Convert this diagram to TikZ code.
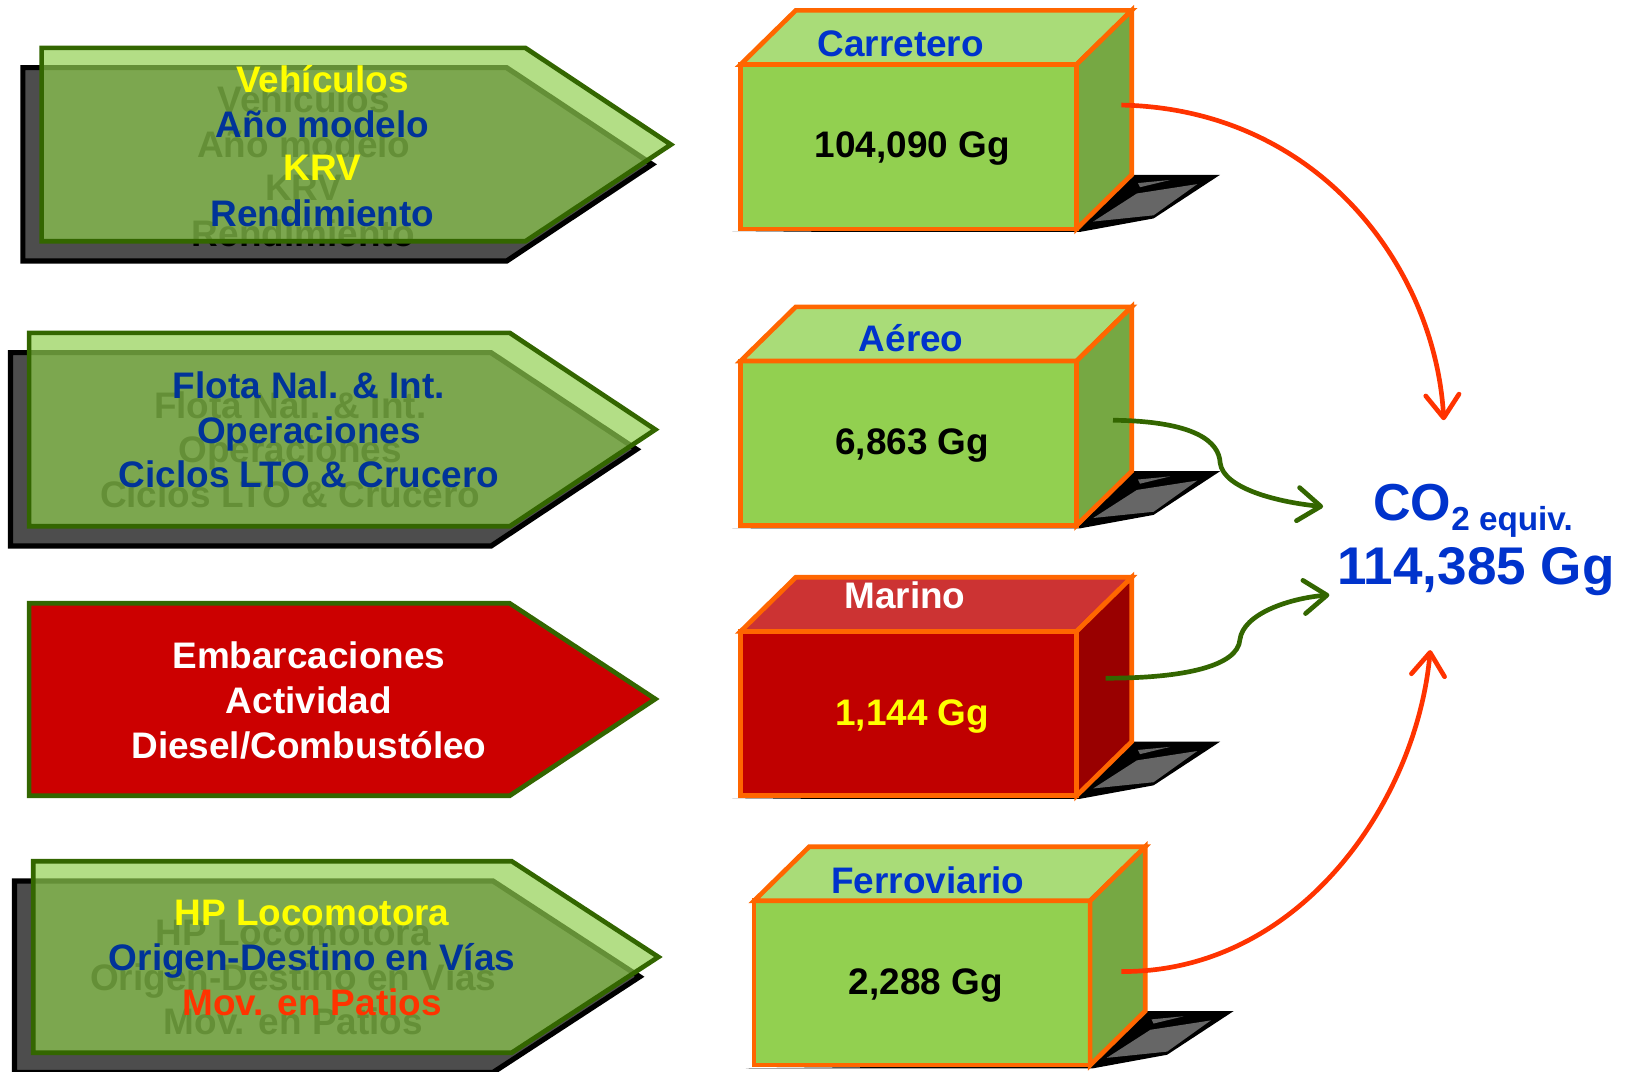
\documentclass[tikz,border=0pt]{standalone}
\usepackage{fontspec}
\setmainfont{Liberation Sans}
\usetikzlibrary{arrows.meta}
\definecolor{dgreen}{HTML}{336600}
\definecolor{lgreen}{HTML}{92D050}
\definecolor{tgreen}{HTML}{A9DC78}
\definecolor{sgreen}{HTML}{76A843}
\definecolor{borange}{HTML}{FF6600}
\definecolor{navy}{HTML}{003399}
\definecolor{blu}{HTML}{0033CC}
\definecolor{yel}{HTML}{FFFF00}
\definecolor{redor}{HTML}{FF3300}
\definecolor{arrowred}{HTML}{CC0000}
\definecolor{shadowgray}{HTML}{4D4D4D}
\definecolor{floorgray}{HTML}{666666}
\definecolor{mfront}{HTML}{C00000}
\definecolor{mtop}{HTML}{CC3333}
\definecolor{mside}{HTML}{990000}

\newcommand\mycube[5]{%
\begin{scope}[shift={(#1,#2)}]
  \fill[black] (-8,161) -- (326,161) -- (397,148) -- (461,106) -- (377,106) -- (326,158) -- cycle;
  \fill[floorgray] (339,151) -- (381,124) -- (439,115) -- (397,145) -- cycle;
  \fill[floorgray] (382,114) -- (413,111) -- (384,118) -- cycle;
  \filldraw[boxface, fill=#3] (0,0) rectangle (323,158);
  \filldraw[boxface, fill=#4] (0,0) -- (53,-52) -- (376,-52) -- (323,0) -- cycle;
  \filldraw[boxface, fill=#5] (323,0) -- (376,-52) -- (376,106) -- (323,158) -- cycle;
\end{scope}}

\begin{document}
\begin{tikzpicture}[x=1pt, y=-1pt,
  txt/.style={font=\fontsize{35.5}{43}\selectfont\bfseries, inner sep=0pt, anchor=base},
  ghost/.style={txt, text=black},
  shadowshape/.style={fill=shadowgray, draw=black, line width=5pt},
  frontshape/.style={fill=lgreen, fill opacity=0.69, draw=dgreen, line width=4.5pt},
  boxface/.style={draw=borange, line width=4.5pt},
  redcon/.style={draw=redor, line width=4.5pt, -{Straight Barb[length=22pt,width=32pt,round]}},
  greencon/.style={draw=dgreen, line width=4.5pt, -{Straight Barb[length=22pt,width=32pt,round]}}
]
\useasboundingbox (0,0) rectangle (1568,1030);
\fill[white] (0,0) rectangle (1568,1030);

% ---------- Arrow 1 ----------
\path[shadowshape] (22,65) -- (487,65) -- (627,158) -- (487,251) -- (22,251) -- cycle;
\node[ghost] (g1a) at (292,108) {Vehículos};
\node[ghost] (g1b) at (292,151) {Año modelo};
\node[ghost] (g1c) at (292,193) {KRV};
\node[ghost] (g1d) at (292,237) {Rendimiento};
\path[frontshape] (40,46) -- (505,46) -- (645,139) -- (505,232) -- (40,232) -- cycle;
\node[txt, text=yel] (t1a) at (310,89) {Vehículos};
\node[txt, text=navy] (t1b) at (310,132) {Año modelo};
\node[txt, text=yel] (t1c) at (310,174) {KRV};
\node[txt, text=navy] (t1d) at (310,218) {Rendimiento};

% ---------- Arrow 2 ----------
\path[shadowshape] (10,339) -- (472,339) -- (612,432) -- (472,525) -- (10,525) -- cycle;
\node[ghost] (g2a) at (279,402) {Flota Nal. \& Int.};
\node[ghost] (g2b) at (279,445) {Operaciones};
\node[ghost] (g2c) at (279,488) {Ciclos LTO \& Crucero};
\path[frontshape] (28,320) -- (490,320) -- (630,413) -- (490,506) -- (28,506) -- cycle;
\node[txt, text=navy] (t2a) at (297,383) {Flota Nal. \& Int.};
\node[txt, text=navy] (t2b) at (297,426) {Operaciones};
\node[txt, text=navy] (t2c) at (297,469) {Ciclos LTO \& Crucero};

% ---------- Arrow 3 ----------
\path[fill=arrowred, draw=dgreen, line width=4.5pt] (28,580) -- (490,580) -- (630,672) -- (490,765) -- (28,765) -- cycle;
\node[txt, text=white] (t3a) at (297,643) {Embarcaciones};
\node[txt, text=white] (t3b) at (297,686) {Actividad};
\node[txt, text=white] (t3c) at (297,729) {Diesel/Combustóleo};

% ---------- Arrow 4 ----------
\path[shadowshape] (14,847) -- (474,847) -- (615,939) -- (474,1031) -- (14,1031) -- cycle;
\node[ghost] (g4a) at (282,909) {HP Locomotora};
\node[ghost] (g4b) at (282,952) {Origen-Destino en Vías};
\node[ghost] (g4c) at (282,995) {Mov. en Patios};
\path[frontshape] (32,828) -- (492,828) -- (633,920) -- (492,1012) -- (32,1012) -- cycle;
\node[txt, text=yel] (t4a) at (300,890) {HP Locomotora};
\node[txt, text=navy] (t4b) at (300,933) {Origen-Destino en Vías};
\node[txt, text=redor] (t4c) at (300,976) {Mov. en Patios};

% ---------- Boxes ----------
\mycube{712}{62}{lgreen}{tgreen}{sgreen}
\node[txt, text=blu] (b1l) at (866,54) {Carretero};
\node[txt, text=black] (b1v) at (877,151) {104,090 Gg};

\mycube{712}{347}{lgreen}{tgreen}{sgreen}
\node[txt, text=blu] (b2l) at (876,338) {Aéreo};
\node[txt, text=black] (b2v) at (877,437) {6,863 Gg};

\mycube{712}{607}{mfront}{mtop}{mside}
\node[txt, text=white] (b3l) at (870,585) {Marino};
\node[txt, text=yel] (b3v) at (877,697) {1,144 Gg};

\mycube{725}{866}{lgreen}{tgreen}{sgreen}
\node[txt, text=blu] (b4l) at (892,859) {Ferroviario};
\node[txt, text=black] (b4v) at (890,956) {2,288 Gg};

% ---------- Total ----------
\node[anchor=base west, inner sep=0pt, text=blu, font=\bfseries] (co2) at (1320,500)
  {\fontsize{50}{60}\selectfont CO\raisebox{-10pt}{\fontsize{32}{38}\selectfont 2 equiv.}};
\node[anchor=base, inner sep=0pt, text=blu, font=\bfseries] (tot) at (1419,562)
  {\fontsize{51}{60}\selectfont 114,385 Gg};

% ---------- Connectors ----------
\coordinate (s1) at (1078,101);
\coordinate (e1) at (1388,404);
\coordinate (s2) at (1070,404);
\coordinate (m2) at (1173,445);
\coordinate (e2) at (1272,487);
\coordinate (s3) at (1063,652);
\coordinate (m3) at (1192,615);
\coordinate (e3) at (1278,572);
\coordinate (s4) at (1078,934);
\coordinate (e4) at (1375,625);

\draw[redcon] (s1) .. controls (1270,105) and (1380,260) .. (e1);
\draw[greencon] (s2) .. controls (1150,405) and (1172,425) .. (m2) .. controls (1176,470) and (1230,483) .. (e2);
\draw[greencon] (s3) .. controls (1140,652) and (1190,640) .. (m3) .. controls (1195,590) and (1240,575) .. (e3);
\draw[redcon] (s4) .. controls (1250,935) and (1362,770) .. (e4);
\end{tikzpicture}
\end{document}
